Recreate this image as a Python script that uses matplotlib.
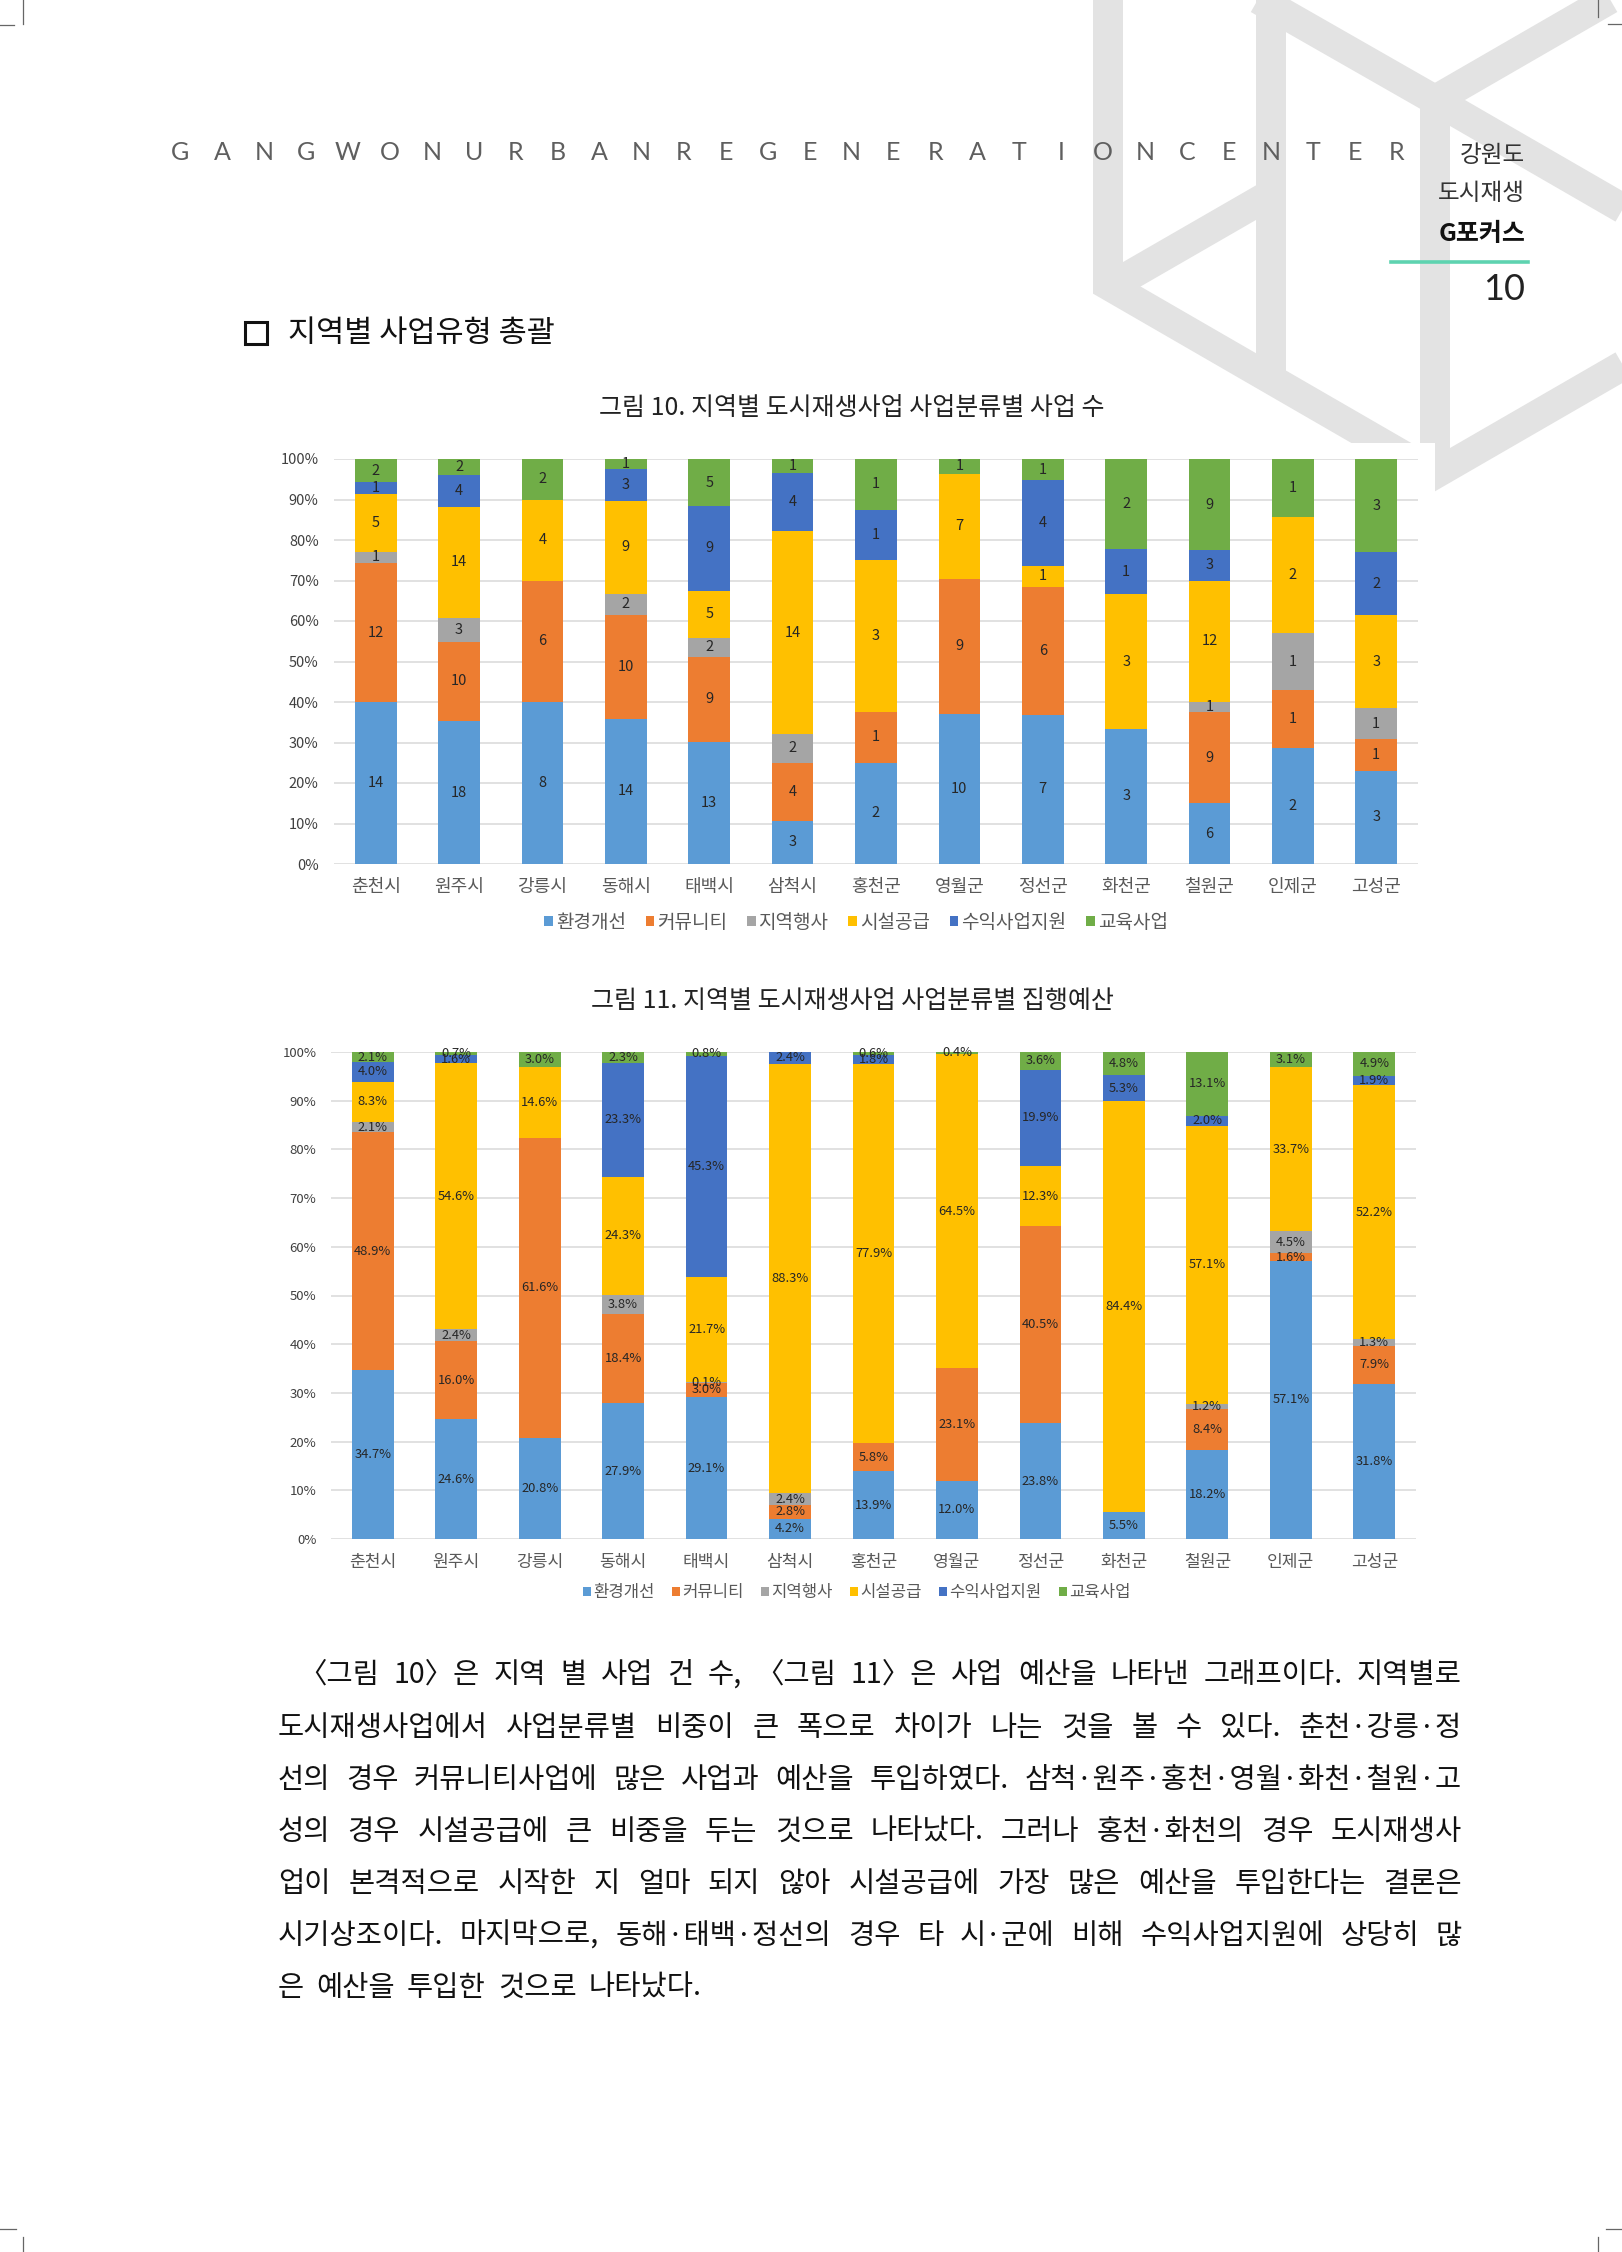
import matplotlib
matplotlib.use('Agg')
import matplotlib.pyplot as plt
from matplotlib.patches import Patch, Rectangle
import numpy as np

plt.rcParams['font.family'] = ['Noto Sans CJK KR', 'DejaVu Sans']

# ---------------- data ----------------
regions = ['춘천시', '원주시', '강릉시', '동해시', '태백시', '삼척시', '홍천군',
           '영월군', '정선군', '화천군', '철원군', '인제군', '고성군']
categories = ['환경개선', '커뮤니티', '지역행사', '시설공급', '수익사업지원', '교육사업']
colors = ['#5B9BD5', '#ED7D31', '#A5A5A5', '#FFC000', '#4472C4', '#70AD47']

# 그림 10: number of projects
cnt_env = [14, 18, 8, 14, 13, 3, 2, 10, 7, 3, 6, 2, 3]
cnt_com = [12, 10, 6, 10, 9, 4, 1, 9, 6, 0, 9, 1, 1]
cnt_evt = [1, 3, 0, 2, 2, 2, 0, 0, 0, 0, 1, 1, 1]
cnt_fac = [5, 14, 4, 9, 5, 14, 3, 7, 1, 3, 12, 2, 3]
cnt_biz = [1, 4, 0, 3, 9, 4, 1, 0, 4, 1, 3, 0, 2]
cnt_edu = [2, 2, 2, 1, 5, 1, 1, 1, 1, 2, 9, 1, 3]

# 그림 11: budget share (%)
bud_env = [34.7, 24.6, 20.8, 27.9, 29.1, 4.2, 13.9, 12.0, 23.8, 5.5, 18.2, 57.1, 31.8]
bud_com = [48.9, 16.0, 61.6, 18.4, 3.0, 2.8, 5.8, 23.1, 40.5, 0, 8.4, 1.6, 7.9]
bud_evt = [2.1, 2.4, 0, 3.8, 0.1, 2.4, 0, 0, 0, 0, 1.2, 4.5, 1.3]
bud_fac = [8.3, 54.6, 14.6, 24.3, 21.7, 88.3, 77.9, 64.5, 12.3, 84.4, 57.1, 33.7, 52.2]
bud_biz = [4.0, 1.6, 0, 23.3, 45.3, 2.4, 1.8, 0, 19.9, 5.3, 2.0, 0, 1.9]
bud_edu = [2.1, 0.7, 3.0, 2.3, 0.8, 0, 0.6, 0.4, 3.6, 4.8, 13.1, 3.1, 4.9]

yticks = list(range(0, 101, 10))
ytick_labels = [f'{v}%' for v in yticks]

header_letters = 'GANGWONURBANREGENERATIONCENTER'
section_title = '지역별 사업유형 총괄'
title1 = '그림 10. 지역별 도시재생사업 사업분류별 사업 수'
title2 = '그림 11. 지역별 도시재생사업 사업분류별 집행예산'
body_lines = [
    '〈그림 10〉은 지역 별 사업 건 수, 〈그림 11〉은 사업 예산을 나타낸 그래프이다. 지역별로',
    '도시재생사업에서 사업분류별 비중이 큰 폭으로 차이가 나는 것을 볼 수 있다. 춘천·강릉·정',
    '선의 경우 커뮤니티사업에 많은 사업과 예산을 투입하였다. 삼척·원주·홍천·영월·화천·철원·고',
    '성의 경우 시설공급에 큰 비중을 두는 것으로 나타났다. 그러나 홍천·화천의 경우 도시재생사',
    '업이 본격적으로 시작한 지 얼마 되지 않아 시설공급에 가장 많은 예산을 투입한다는 결론은',
    '시기상조이다. 마지막으로, 동해·태백·정선의 경우 타 시·군에 비해 수익사업지원에 상당히 많',
    '은 예산을 투입한 것으로 나타났다.',
]

W, H = 1622, 2252
fig = plt.figure(figsize=(W / 100, H / 100), dpi=100)
fig.patch.set_facecolor('white')

# ---------------- background page layer (pixel coordinates) ----------------
bg = fig.add_axes([0, 0, 1, 1], zorder=0)
bg.set_xlim(0, W)
bg.set_ylim(H, 0)
bg.axis('off')

deco = '#e3e3e3'
lw_deco = 30 * 0.72
paths = [
    [(1108, -30), (1108, 285), (1435, 474), (1660, 344)],
    [(1108, 288), (1271, 194)],
    [(1271, -30), (1271, 378)],
    [(1190, -40), (1435, 100), (1435, 474)],
    [(1435, 100), (1660, -30)],
    [(1435, 100), (1660, 230)],
]
for p in paths:
    xs, ys = zip(*p)
    bg.plot(xs, ys, color=deco, lw=lw_deco, solid_capstyle='butt',
            solid_joinstyle='miter', zorder=1)

# white chart area of figure 10 covering the decoration
bg.add_patch(Rectangle((265, 443), 1435 - 265, 940 - 443, facecolor='white',
                       edgecolor='none', zorder=2))

# crop marks
mk = dict(color='#666666', lw=0.9, zorder=3)
bg.plot([23, 23], [0, 24], **mk)
bg.plot([0, 14], [25, 25], **mk)
bg.plot([1598, 1598], [0, 17], **mk)
bg.plot([1608, 1622], [24, 24], **mk)
bg.plot([0, 16], [2229, 2229], **mk)
bg.plot([23, 23], [2237, 2252], **mk)
bg.plot([1606, 1622], [2229, 2229], **mk)
bg.plot([1598, 1598], [2237, 2252], **mk)

# header
step = (1397 - 180) / (len(header_letters) - 1)
for i, ch in enumerate(header_letters):
    bg.text(180 + i * step, 152, ch, ha='center', va='center', fontsize=18,
            color='#5f5f5f', family=['Lato', 'DejaVu Sans'], zorder=4)

bg.text(1525, 155, '강원도', ha='right', va='center', fontsize=17, color='#333333', zorder=4)
bg.text(1525, 194, '도시재생', ha='right', va='center', fontsize=17, color='#333333', zorder=4)
bg.text(1525, 234, 'G포커스', ha='right', va='center', fontsize=18, color='#111111',
        fontweight='bold', zorder=4)
bg.plot([1391, 1528], [262, 262], color='#5ED3B0', lw=2.6, zorder=4)
bg.text(1525, 289, '10', ha='right', va='center', fontsize=26, color='#222222',
        family=['Lato', 'DejaVu Sans'], zorder=4)

# section heading
bg.add_patch(Rectangle((245, 322), 22, 22, facecolor='none', edgecolor='#111111',
                       lw=2.2, zorder=4))
bg.text(288, 333, section_title, ha='left', va='center', fontsize=22,
        color='#111111', zorder=4)

# chart titles
bg.text(852, 408, title1, ha='center', va='center', fontsize=18, color='#222222', zorder=4)
bg.text(852, 1001, title2, ha='center', va='center', fontsize=18, color='#222222', zorder=4)

# body paragraph, justified
renderer = fig.canvas.get_renderer()
line_y = [1675, 1728, 1780, 1832, 1884, 1936, 1988]
x_right = 1462
for k, (line, y) in enumerate(zip(body_lines, line_y)):
    x0 = 298 if k == 0 else 278
    words = line.split(' ')
    objs = [bg.text(0, y, w, ha='left', va='center', fontsize=20.5, color='#111111', zorder=4)
            for w in words]
    widths = [o.get_window_extent(renderer=renderer).width for o in objs]
    if k < len(body_lines) - 1:
        gap = (x_right - x0 - sum(widths)) / (len(words) - 1)
    else:
        gap = 12
    x = x0
    for o, w in zip(objs, widths):
        o.set_x(x)
        x += w + gap


# ---------------- charts ----------------
def stacked_chart(ax, series, fmt, label_fs, tick_fs, xlab_fs, ypad, xpad):
    data = np.array(series, dtype=float)
    pct = data / data.sum(axis=0) * 100
    x = np.arange(len(regions))
    bottom = np.zeros(len(regions))
    for i in range(len(categories)):
        bars = ax.bar(x, pct[i], 0.5, bottom=bottom, color=colors[i], zorder=2,
                      label=categories[i])
        labels = ['' if v == 0 else fmt(v) for v in data[i]]
        ax.bar_label(bars, labels=labels, label_type='center', fontsize=label_fs,
                     color='#262626', zorder=3)
        bottom += pct[i]
    ax.set_xlim(-0.5, len(regions) - 0.5)
    ax.set_ylim(0, 100)
    ax.set_yticks(yticks)
    ax.set_yticklabels(ytick_labels)
    ax.set_xticks(x)
    ax.set_xticklabels(regions)
    ax.grid(axis='y', color='#D9D9D9', lw=1.1, zorder=0)
    ax.set_axisbelow(True)
    for s in ax.spines.values():
        s.set_visible(False)
    ax.tick_params(axis='y', length=0, pad=ypad, labelsize=tick_fs, labelcolor='#404040')
    ax.tick_params(axis='x', length=0, pad=xpad, labelsize=xlab_fs, labelcolor='#595959')
    ax.set_facecolor('none')


ax1 = fig.add_axes([334 / W, 1 - 864 / H, 1084 / W, 405 / H], zorder=2)
stacked_chart(ax1, [cnt_env, cnt_com, cnt_evt, cnt_fac, cnt_biz, cnt_edu],
              lambda v: f'{int(v)}', 10.5, 10.5, 13, 11, 10)

ax2 = fig.add_axes([331 / W, 1 - 1539 / H, 1085 / W, 487 / H], zorder=2)
stacked_chart(ax2, [bud_env, bud_com, bud_evt, bud_fac, bud_biz, bud_edu],
              lambda v: f'{v:.1f}%', 9.3, 9.5, 12.3, 10.5, 10)

handles = [Patch(facecolor=c, edgecolor='none', label=l) for c, l in zip(colors, categories)]
fig.legend(handles=handles, loc='center', bbox_to_anchor=(856 / W, 1 - 922 / H), ncol=6,
           frameon=False, fontsize=13.7, handlelength=0.45, handleheight=0.45,
           handletextpad=0.15, columnspacing=1.05, labelcolor='#595959')
fig.legend(handles=handles, loc='center', bbox_to_anchor=(857 / W, 1 - 1593 / H), ncol=6,
           frameon=False, fontsize=12, handlelength=0.45, handleheight=0.45,
           handletextpad=0.15, columnspacing=1.05, labelcolor='#595959')

fig.savefig('out.png', dpi=100, facecolor='white')
